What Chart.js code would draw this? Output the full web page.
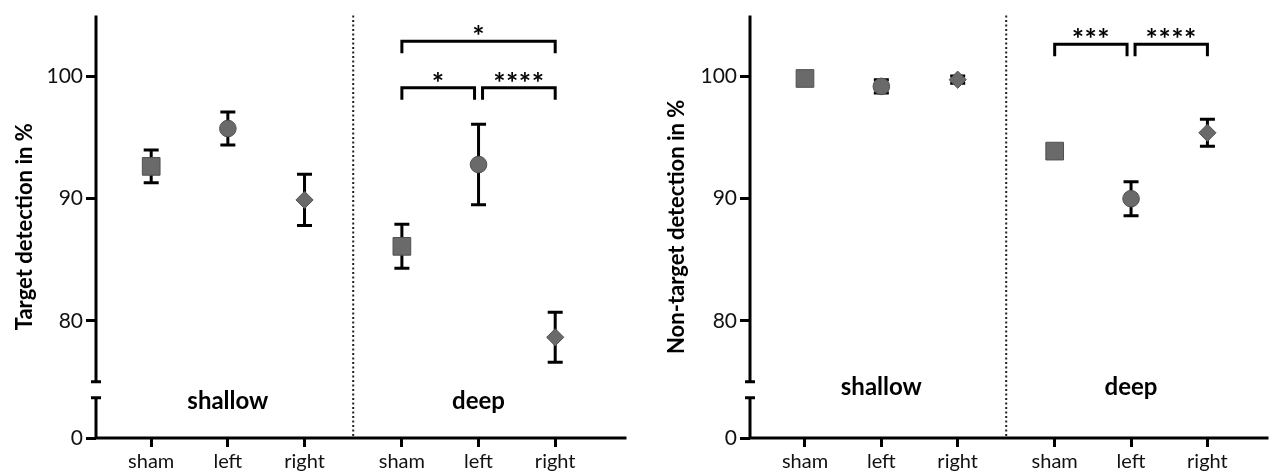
<!DOCTYPE html>
<html><head><meta charset="utf-8">
<script src="https://cdn.jsdelivr.net/npm/chart.js@4.4.0/dist/chart.umd.min.js"></script>
<style>
html,body{margin:0;padding:0;background:#fff;overflow:hidden;}
#wrap{position:relative;width:1282px;height:473px;}
.c{position:absolute;top:0;height:473px;}
#c1{left:0;width:640px;}
#c2{left:640px;width:642px;}
</style></head><body>
<div id="wrap"><div class="c" id="c1"><canvas id="a"></canvas></div><div class="c" id="c2"><canvas id="b"></canvas></div></div>
<script>
// ---- data ----
const categories = ['sham', 'left', 'right'];
const groups = ['shallow', 'deep'];
const yTicks = [80, 90, 100];
const yTickLabels = ['0', '80', '90', '100'];
const markerStyles = ['rect', 'circle', 'rectRot'];

const targetMean = [92.65, 95.75, 89.9, 86.1, 92.8, 78.65];
const targetErr  = [1.35, 1.35, 2.1, 1.8, 3.3, 2.05];
const targetSig  = [[3, 5, '*', 102.9], [3, 4, '*', 99.1], [4, 5, '****', 99.1]];

const nonTargetMean = [99.85, 99.2, 99.75, 93.9, 90.0, 95.4];
const nonTargetErr  = [0.1, 0.55, 0.3, 0.3, 1.4, 1.1];
const nonTargetSig  = [[3, 4, '***', 102.65], [4, 5, '****', 102.65]];

// ---- layout constants ----
const GROUP_STEP = 3.27;
const Y_MIN = 70.4, Y_MAX = 105, BREAK_LO = 73.7, BREAK_HI = 75;
const FONT = 'Lato';
function pos(i) { const n = categories.length; return Math.floor(i / n) * GROUP_STEP + (i % n) + 1; }
const xPositions = targetMean.map((_, i) => pos(i));
const dividerPos = (pos(categories.length - 1) + pos(categories.length)) / 2;

const panelPlugin = {
  id: 'panel',
  beforeDatasetsDraw(chart, args, o) {
    const {ctx, chartArea: ca, scales: {x, y}} = chart;
    ctx.save();
    // dotted divider
    ctx.strokeStyle = '#222'; ctx.lineWidth = 2; ctx.setLineDash([2, 2.5]);
    const dx = x.getPixelForValue(dividerPos);
    ctx.beginPath(); ctx.moveTo(dx, ca.top); ctx.lineTo(dx, ca.bottom); ctx.stroke();
    ctx.setLineDash([]);
    // broken y axis
    ctx.strokeStyle = '#000'; ctx.lineWidth = 3;
    const ax = ca.left;
    ctx.beginPath();
    ctx.moveTo(ax, ca.top); ctx.lineTo(ax, y.getPixelForValue(BREAK_HI));
    ctx.moveTo(ax, y.getPixelForValue(BREAK_LO)); ctx.lineTo(ax, ca.bottom);
    ctx.moveTo(ax - 5, y.getPixelForValue(BREAK_HI)); ctx.lineTo(ax + 5, y.getPixelForValue(BREAK_HI));
    ctx.moveTo(ax - 5, y.getPixelForValue(BREAK_LO)); ctx.lineTo(ax + 5, y.getPixelForValue(BREAK_LO));
    // x axis
    ctx.moveTo(ax - 1.5, ca.bottom); ctx.lineTo(ca.right, ca.bottom);
    ctx.stroke();
    // error bars
    const mean = o.mean, err = o.err;
    ctx.beginPath();
    mean.forEach((m, i) => {
      const px = x.getPixelForValue(xPositions[i]);
      const t = y.getPixelForValue(m + err[i]), b = y.getPixelForValue(m - err[i]);
      ctx.moveTo(px, t); ctx.lineTo(px, b);
      ctx.moveTo(px - 7.5, t); ctx.lineTo(px + 7.5, t);
      ctx.moveTo(px - 7.5, b); ctx.lineTo(px + 7.5, b);
    });
    ctx.stroke();
    // group labels
    ctx.fillStyle = '#000';
    ctx.font = 'bold 24px ' + FONT;
    ctx.textAlign = 'center'; ctx.textBaseline = 'middle';
    groups.forEach((g, gi) => {
      const mid = pos(gi * categories.length + 1);
      ctx.fillText(g, x.getPixelForValue(mid), ca.bottom - o.groupLabelOffset);
    });
    ctx.restore();
  },
  afterDatasetsDraw(chart, args, o) {
    const {ctx, scales: {x, y}} = chart;
    ctx.save();
    ctx.strokeStyle = '#000'; ctx.lineWidth = 3; ctx.fillStyle = '#000';
    ctx.font = 'bold 29px ' + FONT;
    if ('letterSpacing' in ctx) ctx.letterSpacing = '0.5px';
    ctx.textAlign = 'center'; ctx.textBaseline = 'alphabetic';
    o.sig.forEach(([a, b, label, lvl]) => {
      const shared = (idx) => o.sig.some(s => s[3] === lvl && (s[0] === idx || s[1] === idx) && !(s[0] === a && s[1] === b));
      let x1 = x.getPixelForValue(xPositions[a]);
      let x2 = x.getPixelForValue(xPositions[b]);
      if (shared(a)) x1 += 4;
      if (shared(b)) x2 -= 4;
      const py = y.getPixelForValue(lvl);
      ctx.beginPath();
      ctx.moveTo(x1, py + 12); ctx.lineTo(x1, py); ctx.lineTo(x2, py); ctx.lineTo(x2, py + 12);
      ctx.stroke();
      ctx.fillText(label, (x1 + x2) / 2, py + 5);
    });
    ctx.restore();
  }
};

function makeChart(id, mean, err, sig, title, yWidth, titlePad, xMax, groupLabelOffset) {
  const radii = [12.5, 8.3, 8.6];
  return new Chart(document.getElementById(id), {
    type: 'scatter',
    data: {
      datasets: [{
        data: mean.map((m, i) => ({x: xPositions[i], y: m})),
        pointStyle: mean.map((_, i) => markerStyles[i % categories.length]),
        pointRadius: mean.map((_, i) => radii[i % categories.length]),
        pointHoverRadius: mean.map((_, i) => radii[i % categories.length]),
        backgroundColor: '#6a6a6a',
        borderColor: '#505050',
        borderWidth: 1
      }]
    },
    options: {
      responsive: true, maintainAspectRatio: false, animation: false, devicePixelRatio: 1,
      layout: {padding: {top: 14, left: 0, right: 0, bottom: 0}},
      plugins: {
        legend: {display: false}, tooltip: {enabled: false},
        panel: {mean, err, sig, groupLabelOffset}
      },
      scales: {
        x: {
          type: 'linear', min: 0.28, max: xMax,
          afterFit: s => { s.height = 35; },
          afterBuildTicks: s => { s.ticks = xPositions.map(v => ({value: v})); },
          ticks: {
            callback: (v, i) => categories[i % categories.length],
            font: {family: FONT, size: 20}, color: '#111', padding: 3, maxRotation: 0, autoSkip: false
          },
          grid: {display: true, drawOnChartArea: false, drawTicks: true, tickLength: 9, lineWidth: 3, color: '#000'},
          border: {display: false}
        },
        y: {
          type: 'linear', min: Y_MIN, max: Y_MAX,
          afterFit: s => { s.width = yWidth; },
          afterBuildTicks: s => { s.ticks = [Y_MIN, ...yTicks].map(v => ({value: v})); },
          ticks: {
            callback: (v, i) => yTickLabels[i],
            font: {family: FONT, size: 21}, color: '#111', padding: 3, autoSkip: false
          },
          grid: {display: true, drawOnChartArea: false, drawTicks: true, tickLength: 10, lineWidth: 3, color: '#000'},
          border: {display: false},
          title: {display: true, text: title, font: {family: FONT, size: 22, weight: 'bold'}, color: '#000', padding: {top: titlePad, bottom: 0}}
        }
      }
    },
    plugins: [panelPlugin]
  });
}

makeChart('a', targetMean, targetErr, targetSig, 'Target detection in %', 96, 12, 7.2, 37);
makeChart('b', nonTargetMean, nonTargetErr, nonTargetSig, 'Non-target detection in %', 110, 23.5, 7.07, 51);
</script>
</body></html>
